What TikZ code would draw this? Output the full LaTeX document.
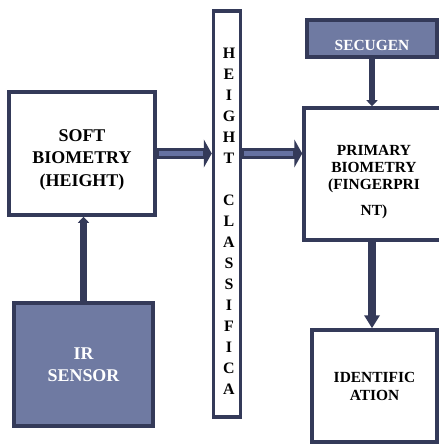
\documentclass[tikz,border=0pt]{standalone}
\usepackage{fontspec}
\setmainfont{Liberation Serif}
\usetikzlibrary{arrows.meta}
\definecolor{navy}{HTML}{343A59}
\definecolor{navym}{HTML}{6F7AA2}
\definecolor{navyl}{HTML}{6571A1}
\tikzset{
  block/.style={draw=navy,line width=3.5bp,fill=white,inner sep=0pt,align=center},
  blockf/.style={block,fill=navym,text=white},
  vec/.style={-{Triangle[length=6bp,width=11bp]},navy,line width=6.5bp},
  vecg/.style={-{Triangle[length=13bp,width=15bp]},navy,line width=8bp},
  vecb/.style={-{Triangle[length=8bp,width=28bp]},navy,line width=11bp,
    postaction={draw=navyl,line width=5bp,-,shorten <=2bp,shorten >=9bp}},
}
\begin{document}
\begin{tikzpicture}[x=1bp,y=-1bp]
  \clip (0,0) rectangle (439,444);
  \fill[white] (0,0) rectangle (439,444);
  \node[block,minimum width=146bp,minimum height=123bp,
    font=\fontsize{18}{22.5}\selectfont\bfseries] (soft) at (82,153.5)
    {\rule{0pt}{24bp}SOFT\\BIOMETRY\\(HEIGHT)};
  \node[blockf,minimum width=139bp,minimum height=123bp,
    font=\fontsize{18}{22}\selectfont\bfseries] (ir) at (83.5,364.5)
    {IR\\SENSOR};
  \node[block,minimum width=27bp,minimum height=406bp] (hgt) at (227,214) {};
  \foreach \c [count=\i] in {H,E,I,G,H,T,{},C,L,A,S,S,I,F,I,C,A}
    \node[font=\fontsize{16}{16}\selectfont\bfseries,inner sep=0pt]
      (hgt\i) at (229,53+21*\i-21) {\c};
  \node[block,minimum width=140bp,minimum height=132bp,
    font=\fontsize{15.5}{17}\selectfont\bfseries] (prim) at (374,174)
    {\rule{0pt}{26bp}PRIMARY\\BIOMETRY\\(FINGERPRI\\[9bp]NT)};
  \node[blockf,minimum width=130bp,minimum height=37bp,text height=25bp,
    font=\fontsize{15.5}{17}\selectfont\bfseries] (secu) at (372,38.5)
    {SECUGEN};
  \node[block,minimum width=125bp,minimum height=112bp,
    font=\fontsize{15.5}{18}\selectfont\bfseries] (ident) at (374.5,386)
    {IDENTIFIC\\ATION};
  % connectors
  \draw[vecb] (soft.east) -- (soft.east -| hgt.west);
  \draw[vecb] (hgt.east |- soft.east) -- (prim.west |- soft.east);
  \draw[vec] (ir.north) -- (ir.north |- soft.south);
  \draw[vec] (secu.south) -- (secu.south |- prim.north);
  \draw[vecg] (prim.south -| secu.south) -- (ident.north -| secu.south);
\end{tikzpicture}
\end{document}
